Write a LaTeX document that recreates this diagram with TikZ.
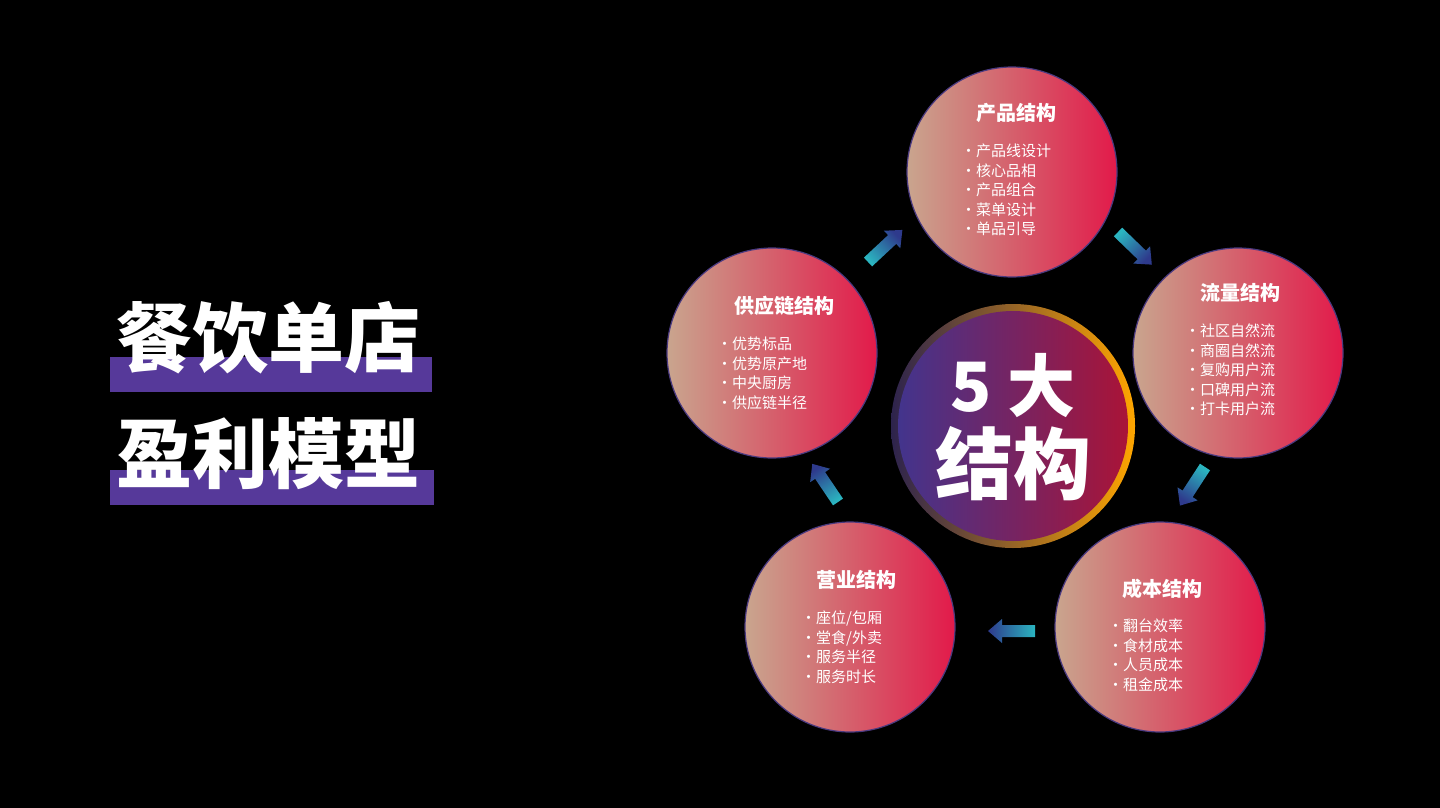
\documentclass[tikz,border=0pt]{standalone}
\usepackage{fontspec}
\setmainfont{Noto Sans CJK SC}
\usetikzlibrary{calc}
\definecolor{tan}{HTML}{C9A58E}
\definecolor{crim}{HTML}{E21A4A}
\definecolor{bord}{HTML}{4A3A80}
\definecolor{barp}{HTML}{56399A}
\definecolor{teal}{HTML}{2BB5C0}
\definecolor{navy}{HTML}{2E3A8C}
\tikzset{
  sub/.style={draw=bord,line width=1.2pt,left color=tan,right color=crim,circle,minimum size=210pt,inner sep=0pt},
  ttl/.style={text=white,font=\bfseries\fontsize{20}{24}\selectfont},
  items/.style={text=white,font=\fontsize{15}{19.5}\selectfont,align=left,anchor=north west,inner sep=0pt},
  big/.style={text=white,font=\bfseries\fontsize{70}{70}\selectfont},
}
\newcommand{\blockarrow}[4]{%
  \begin{scope}[shift={(#1,#2)},rotate=#3]
  \shade[left color=teal,right color=navy,shading angle={90+#3}] (0,-6) -- (#4-14,-6) -- (#4-14,-12) -- (#4,0) -- (#4-14,12) -- (#4-14,6) -- (0,6) -- cycle;
  \end{scope}}
\begin{document}
\begin{tikzpicture}[x=1pt,y=-1pt]
\fill[black] (0,0) rectangle (1440,808);
\useasboundingbox (0,0) rectangle (1440,808);
% left title
\fill[barp] (110,357) rectangle (432,392);
\fill[barp] (110,470) rectangle (434,505);
\node[big,font=\bfseries\fontsize{76}{76}\selectfont] (t1) at (268,338) {餐饮单店};
\node[big,font=\bfseries\fontsize{76}{76}\selectfont] (t2) at (268,454) {盈利模型};
% center
\shade[left color=bord!60!black,right color=orange!70!yellow] (1013,426) circle (122);
\node[circle,minimum size=230pt,inner sep=0pt,left color=bord!90!blue,right color=crim!75!black] (c) at (1013,426) {};
\node[big,font=\bfseries\fontsize{68}{68}\selectfont] at (1013,386) {5 大};
\node[big,font=\bfseries\fontsize{78}{78}\selectfont] at (1013,464) {结构};
% circles
\node[sub] (a) at (1012,172) {};
\node[sub] (b) at (1238,353) {};
\node[sub] (d) at (1160,627) {};
\node[sub] (e) at (850,627) {};
\node[sub] (f) at (772,353) {};
\node[ttl] at (1016,113) {产品结构};
\node[items] at (961,144) {·产品线设计\\·核心品相\\·产品组合\\·菜单设计\\·单品引导};
\node[ttl] at (1240,293) {流量结构};
\node[items] at (1185,324) {·社区自然流\\·商圈自然流\\·复购用户流\\·口碑用户流\\·打卡用户流};
\node[ttl] at (1162,589) {成本结构};
\node[items] at (1108,619) {·翻台效率\\·食材成本\\·人员成本\\·租金成本};
\node[ttl] at (856,580) {营业结构};
\node[items] at (801,611) {·座位/包厢\\·堂食/外卖\\·服务半径\\·服务时长};
\node[ttl] at (784,306) {供应链结构};
\node[items] at (717,337) {·优势标品\\·优势原产地\\·中央厨房\\·供应链半径};
% arrows
\blockarrow{868}{262}{43}{47}
\blockarrow{1118}{232}{-44}{47}
\blockarrow{1205}{467}{-123}{46}
\blockarrow{1035}{631}{180}{47}
\blockarrow{838}{502}{124}{46}
\end{tikzpicture}
\end{document}
